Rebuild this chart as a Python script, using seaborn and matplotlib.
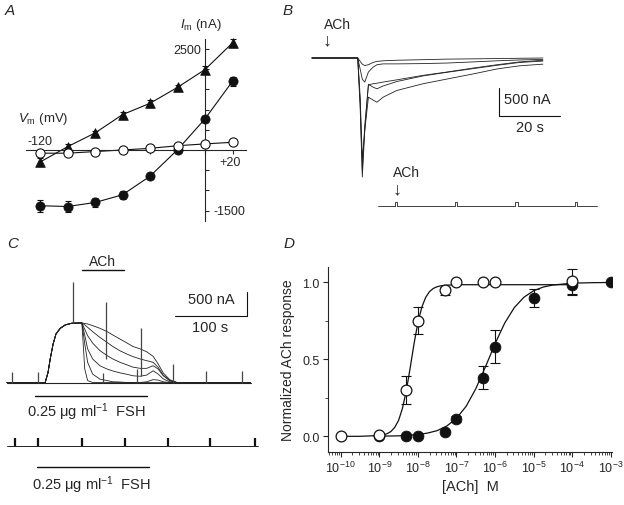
import numpy as np
import matplotlib
matplotlib.use('Agg')
import matplotlib.pyplot as plt
import seaborn as sns
from matplotlib.ticker import MultipleLocator, LogLocator, NullFormatter

# ---- Panel A: I-V relations ----
vm = [-120, -100, -80, -60, -40, -20, 0, 20]
i_tri = [-300, 80, 420, 875, 1155, 1550, 1990, 2650]
i_fill = [-1380, -1400, -1300, -1110, -650, 5, 770, 1700]
i_open = [-80, -80, -40, 0, 40, 105, 150, 190]
err_tri = [90, 60, 60, 70, 80, 60, 80, 90]
err_fill = [150, 140, 100, 100, 60, 60, 70, 110]
err_open = [30, 30, 30, 30, 30, 30, 30, 30]

# ---- Panel B: ACh current traces (s, nA) ----
t_b = [0, 15.0, 15.8, 16.5, 17.3, 18.5, 20.0, 21.3, 23.3, 27.8, 36.4, 44.3, 52.8, 60.7, 68.0, 75.7]
b_tr1 = [0, 0, -60, -110, -135, -120, -80, -60, -50, -40, -30, -20, -15, -10, -5, 0]
b_tr2 = [0, 0, -200, -380, -430, -250, -165, -120, -105, -105, -100, -90, -70, -50, -35, -25]
b_tr3 = [0, 0, -900, -2125, -1300, -470, -520, -550, -500, -420, -320, -255, -190, -130, -80, -55]
b_tr4 = [0, 0, -800, -2000, -1200, -480, -460, -450, -430, -390, -310, -250, -180, -120, -70, -40]
b_tr5 = [0, 0, -700, -1800, -1300, -700, -750, -790, -700, -580, -460, -375, -285, -195, -140, -110]
b_pulses = [5.6, 25.3, 45.0, 64.6]   # s after start of lower record
b_pulse_len = 71.8

# ---- Panel C: FSH-evoked currents (s, nA) ----
t_c_rise = [0, 53, 57, 60, 64, 68, 74, 81, 90]
c_rise = [0, 0, 210, 490, 800, 1010, 1130, 1200, 1235]
t_c_decay = [104, 108, 112, 119, 129, 139, 147, 157, 167, 175, 185, 194, 203, 210, 217, 226, 236, 338]
c_tr1 = [1240, 280, 40, 0, 0, 0, 0, 0, 0, 0, 0, 0, 0, 0, 0, 0, 0, 0]
c_tr2 = [1240, 805, 420, 175, 70, 40, 15, 10, 0, 0, 0, 15, 60, 50, 15, 0, 0, 0]
c_tr3 = [1240, 985, 700, 490, 350, 280, 240, 200, 170, 140, 130, 155, 245, 175, 75, 15, 0, 0]
c_tr4 = [1240, 1110, 975, 820, 665, 560, 490, 420, 365, 320, 295, 295, 350, 280, 140, 40, 0, 0]
c_tr5 = [1240, 1200, 1150, 1060, 940, 835, 750, 660, 590, 540, 490, 455, 420, 315, 155, 40, 0, 0]
c_tr6 = [1240, 1230, 1220, 1185, 1130, 1060, 990, 905, 820, 750, 700, 640, 545, 385, 200, 60, 0, 0]
spk_t = [7, 43, 91, 134, 138, 180, 186, 231, 277, 326]
spk_lo = [0, 0, 1235, 0, 490, 0, 140, 0, 0, 0]
spk_hi = [210, 210, 2100, 200, 1677, 280, 1135, 385, 245, 230]
c_pulses = [11, 43, 104, 164, 224, 282, 344]
c_pulse_len = 349
ach_on, ach_off = 104, 162.5
fsh_on, fsh_off = 39, 194

# ---- Panel D: concentration-response ----
open_x = [1e-10, 1e-9, 5e-9, 1e-8, 5e-8, 1e-7, 5e-7, 1e-6, 1e-4]
open_y = [0.0, 0.01, 0.30, 0.75, 0.95, 1.0, 1.0, 1.0, 1.01]
open_ex = [5e-9, 1e-8, 5e-8, 1e-4]
open_ey = [0.30, 0.75, 0.95, 1.01]
open_elo = [0.09, 0.087, 0.035, 0.085]
open_ehi = [0.09, 0.087, 0.02, 0.08]
fill_x = [1e-9, 5e-9, 1e-8, 5e-8, 1e-7, 5e-7, 1e-6, 1e-5, 1e-4, 1e-3]
fill_y = [0.0, 0.0, 0.0, 0.03, 0.11, 0.38, 0.58, 0.90, 0.98, 1.0]
fill_ex = [1e-7, 5e-7, 1e-6, 1e-5, 1e-4]
fill_ey = [0.11, 0.38, 0.58, 0.90, 0.98]
fill_elo = [0.02, 0.07, 0.105, 0.06, 0.06]
fill_ehi = [0.02, 0.075, 0.11, 0.06, 0.04]
fit_open_lx = [-10, -9.5, -9.0, -8.9, -8.8, -8.7, -8.6, -8.5, -8.4, -8.3, -8.2, -8.1, -8.0,
               -7.9, -7.8, -7.7, -7.6, -7.5, -7.4, -7.25, -7.0, -6.0, -5.0, -4.0]
fit_open_y = [0, 0, 0.005, 0.009, 0.017, 0.031, 0.058, 0.104, 0.182, 0.297, 0.445, 0.602, 0.739,
              0.838, 0.902, 0.940, 0.961, 0.972, 0.978, 0.982, 0.985, 0.985, 0.985, 0.985]
fit_fill_lx = [-9, -8.5, -8, -7.75, -7.5, -7.25, -7, -6.75, -6.5, -6.25, -6, -5.75, -5.5,
               -5.25, -5, -4.75, -4.5, -4, -3.5, -3]
fit_fill_y = [0.001, 0.003, 0.011, 0.021, 0.037, 0.067, 0.117, 0.195, 0.309, 0.451, 0.602, 0.736,
              0.837, 0.904, 0.946, 0.970, 0.983, 0.995, 0.998, 0.9995]
d_ticks = [1e-10, 1e-9, 1e-8, 1e-7, 1e-6, 1e-5, 1e-4, 1e-3]

W, H = 624, 506


def rect(l, t, r, b):
    return [l / W, 1 - b / H, (r - l) / W, (b - t) / H]


sns.set_style('ticks')
plt.rcParams['font.family'] = ['Liberation Sans', 'DejaVu Sans']
plt.rcParams['mathtext.fontset'] = 'custom'
plt.rcParams['mathtext.rm'] = 'Liberation Sans'
plt.rcParams['mathtext.it'] = 'Liberation Sans:italic'
plt.rcParams['axes.linewidth'] = 0.8

fig = plt.figure(figsize=(6.24, 5.06), dpi=100)
ink = '#111111'

# ---------------- A ----------------
axA = fig.add_axes(rect(24.9, 33.8, 249, 225.7))
axA.patch.set_alpha(0)
for s in ['top', 'right']:
    axA.spines[s].set_visible(False)
axA.spines['left'].set_position(('data', 0))
axA.spines['bottom'].set_position(('data', 0))
axA.spines['bottom'].set_bounds(-130, 30)
axA.spines['left'].set_bounds(-1760, 2750)
for y, e in [(i_tri, err_tri), (i_fill, err_fill), (i_open, err_open)]:
    sns.lineplot(x=vm, y=y, color=ink, lw=0.8, ax=axA)
    axA.errorbar(vm, y, yerr=e, fmt='none', ecolor=ink, elinewidth=0.8, capsize=2.5, capthick=0.8)
sns.scatterplot(x=vm, y=i_tri, marker='^', s=48, color=ink, edgecolor=ink, ax=axA, zorder=5)
sns.scatterplot(x=vm, y=i_fill, marker='o', s=44, color=ink, edgecolor=ink, ax=axA, zorder=5)
sns.scatterplot(x=vm, y=i_open, marker='o', s=44, color='white', edgecolor=ink, linewidth=0.8,
                ax=axA, zorder=5)
axA.set_xlim(-131, 32)
axA.set_ylim(-1850, 2900)
axA.set_xticks(vm)
axA.set_yticks(np.arange(-1500, 2501, 500))
axA.tick_params(axis='x', direction='out', length=3, labelbottom=False)
axA.tick_params(axis='y', direction='in', length=3, labelleft=False)
axA.set_xlabel('')
axA.set_ylabel('')
fsA = 9
axA.text(-120, 223, '-120', ha='center', va='center', fontsize=fsA)
axA.text(18, -297, '+20', ha='center', va='center', fontsize=fsA)
axA.text(-3, 2475, '2500', ha='right', va='center', fontsize=fsA)
axA.text(6, -1510, '-1500', ha='left', va='center', fontsize=fsA)
axA.text(-136, 792, r'$\mathit{V}_{\mathrm{m}}$ (mV)', ha='left', va='center', fontsize=9.5)
axA.text(-18, 3119, r'$\mathit{I}_{\mathrm{m}}$ (nA)', ha='left', va='center', fontsize=9.5)

# ---------------- B ----------------
axB = fig.add_axes(rect(300, 15, 620, 215))
axB.axis('off')
for tr in [b_tr1, b_tr2, b_tr3, b_tr4, b_tr5]:
    sns.lineplot(x=t_b, y=tr, color='#222222', lw=0.6, ax=axB)
# lower record: ACh pulses
b_start, b_base, b_h, b_w = 21.6, -2643, 71, 0.8
px_ = [b_start]
py_ = [b_base]
for p in b_pulses:
    px_ += [b_start + p, b_start + p, b_start + p + b_w, b_start + p + b_w]
    py_ += [b_base, b_base + b_h, b_base + b_h, b_base]
px_.append(b_start + b_pulse_len)
py_.append(b_base)
axB.plot(px_, py_, color='#222222', lw=0.6)
axB.plot([61.3, 61.3, 81.3], [-536, -1036, -1036], color=ink, lw=0.8)
axB.text(63, -732, '500 nA', ha='left', va='center', fontsize=10.5)
axB.text(71.5, -1232, '20 s', ha='center', va='center', fontsize=10.5)
axB.text(8.4, 607, 'ACh', ha='center', va='center', fontsize=10)
axB.text(4.8, 321, '\u2193', ha='center', va='center', fontsize=13)
axB.text(31.1, -2030, 'ACh', ha='center', va='center', fontsize=10)
axB.text(27.8, -2339, '\u2193', ha='center', va='center', fontsize=13)
axB.set_xlim(-3.93, 100.98)
axB.set_ylim(-2785.7, 785.7)

# ---------------- C ----------------
axC = fig.add_axes(rect(0, 235, 262, 500))
axC.axis('off')
for tr in [c_tr1, c_tr2, c_tr3, c_tr4, c_tr5, c_tr6]:
    sns.lineplot(x=t_c_rise + t_c_decay, y=c_rise + tr, color='#222222', lw=0.6, ax=axC)
sns.lineplot(x=[0, c_pulse_len * 0.97], y=[0, 0], color='#222222', lw=0.8, ax=axC)
axC.vlines(spk_t, spk_lo, spk_hi, color='#444444', lw=0.9)
c_base = -1323
axC.plot([0, c_pulse_len], [c_base, c_base], color='#222222', lw=0.7)
axC.vlines(c_pulses, c_base, c_base + 167, color=ink, lw=1.6)
axC.plot([ach_on, ach_off], [2344, 2344], color=ink, lw=1.0)
axC.text((ach_on + ach_off) / 2, 2531, 'ACh', ha='center', va='center', fontsize=10)
axC.plot([fsh_on, fsh_off], [-281, -281], color=ink, lw=1.0)
axC.plot([fsh_on + 2.7, fsh_off + 2.8], [-1760, -1760], color=ink, lw=1.0)
fsh_label = '0.25 \u03bcg ml$^{-1}$  FSH'
axC.text(27.8, -608, fsh_label, ha='left', va='center', fontsize=10.5)
axC.text(34.7, -2115, fsh_label, ha='left', va='center', fontsize=10.5)
axC.plot([233.3, 333.3, 333.3], [1385, 1385, 1885], color=ink, lw=0.8)
axC.text(316.7, 1740, '500 nA', ha='right', va='center', fontsize=10.5)
axC.text(282, 1150, '100 s', ha='center', va='center', fontsize=10.5)
axC.set_xlim(-9.72, 354.17)
axC.set_ylim(-2427, 3094)

# ---------------- D ----------------
axD = fig.add_axes(rect(328, 268, 612, 452.7))
axD.set_xscale('log')
sns.lineplot(x=10.0 ** np.array(fit_open_lx), y=fit_open_y, color=ink, lw=0.9, ax=axD)
sns.lineplot(x=10.0 ** np.array(fit_fill_lx), y=fit_fill_y, color=ink, lw=0.9, ax=axD)
axD.errorbar(fill_ex, fill_ey, yerr=[fill_elo, fill_ehi], fmt='none', ecolor=ink,
             elinewidth=0.8, capsize=3.5, capthick=0.8)
axD.errorbar(open_ex, open_ey, yerr=[open_elo, open_ehi], fmt='none', ecolor=ink,
             elinewidth=0.8, capsize=3.5, capthick=0.8)
sns.scatterplot(x=fill_x, y=fill_y, s=60, color=ink, edgecolor=ink, ax=axD, zorder=5)
sns.scatterplot(x=open_x, y=open_y, s=60, color='white', edgecolor=ink, linewidth=0.9,
                ax=axD, zorder=6)
axD.set_xlim(10 ** -10.33, 10 ** -2.97)
axD.set_ylim(-0.1, 1.1)
axD.set_xticks(d_ticks)
axD.xaxis.set_minor_locator(LogLocator(base=10, subs=np.arange(2, 10), numticks=20))
axD.xaxis.set_minor_formatter(NullFormatter())
axD.set_yticks([0.0, 0.5, 1.0])
axD.set_yticklabels(['0.0', '0.5', '1.0'])
axD.yaxis.set_minor_locator(MultipleLocator(0.25))
axD.tick_params(which='major', direction='out', length=3.5, width=0.8, labelsize=9, pad=2.5)
axD.tick_params(which='minor', direction='out', length=2, width=0.6)
sns.despine(ax=axD)
axD.set_xlabel('[ACh]  M', fontsize=10.5, labelpad=3)
axD.set_ylabel('Normalized ACh response', fontsize=10, labelpad=5)

# panel letters
for lab, (x, y) in {'A': (5, 4), 'B': (283, 4), 'C': (7, 237), 'D': (284, 237)}.items():
    fig.text(x / W, 1 - y / H, lab, ha='left', va='top', fontsize=11, style='italic')

fig.savefig('out.png', dpi=100)
